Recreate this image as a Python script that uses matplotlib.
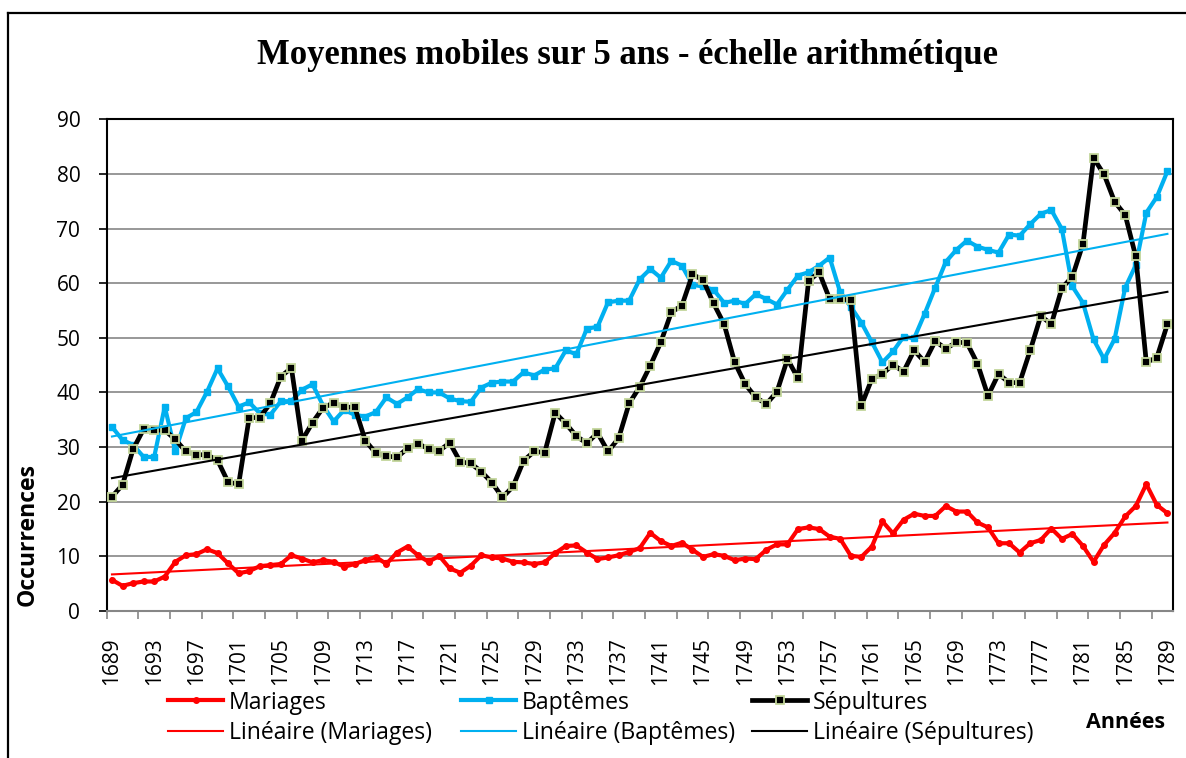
import numpy as np
import matplotlib
matplotlib.use("Agg")
import matplotlib.pyplot as plt
from matplotlib.lines import Line2D

years = list(range(1689, 1790))
tick_years = list(range(1689, 1790, 4))

mariages = [5.7, 4.6, 5.1, 5.4, 5.4, 6.3, 9.0, 10.2, 10.4, 11.3,
            10.6, 8.7, 6.9, 7.3, 8.2, 8.4, 8.6, 10.2, 9.6, 8.9,
            9.3, 9.0, 8.1, 8.6, 9.3, 9.9, 8.6, 10.7, 11.8, 10.2,
            9.0, 10.1, 7.8, 7.0, 8.3, 10.2, 9.8, 9.6, 9.0, 8.9,
            8.6, 8.9, 10.6, 11.9, 12.0, 10.7, 9.5, 9.8, 10.2, 10.8,
            11.5, 14.3, 12.8, 11.9, 12.5, 11.2, 9.9, 10.4, 10.1, 9.3,
            9.6, 9.5, 11.2, 12.2, 12.2, 15.0, 15.3, 15.0, 13.6, 13.2,
            10.1, 9.9, 11.8, 16.4, 14.2, 16.7, 17.8, 17.4, 17.4, 19.2,
            18.2, 18.2, 16.2, 15.3, 12.4, 12.4, 10.7, 12.4, 13.0, 15.1,
            13.2, 14.1, 11.9, 9.0, 12.1, 14.3, 17.3, 19.2, 23.2, 19.4,
            17.9]

baptemes = [33.7, 31.3, 30.4, 28.2, 28.2, 37.4, 29.2, 35.3, 36.4, 40.1,
            44.4, 41.1, 37.4, 38.2, 36.2, 35.9, 38.4, 38.4, 40.5, 41.5,
            37.6, 34.7, 36.8, 35.9, 35.6, 36.4, 39.1, 37.9, 39.1, 40.6,
            40.0, 40.0, 38.9, 38.4, 38.3, 40.9, 41.8, 42.0, 42.0, 43.7,
            43.1, 44.2, 44.4, 47.7, 47.0, 51.7, 52.0, 56.5, 56.8, 56.8,
            60.7, 62.6, 61.0, 64.1, 63.2, 59.7, 59.4, 58.8, 56.4, 56.8,
            56.2, 58.0, 57.1, 56.1, 58.8, 61.4, 62.0, 63.2, 64.7, 58.3,
            55.7, 52.8, 49.2, 45.5, 47.5, 50.2, 49.9, 54.4, 59.2, 63.9,
            66.1, 67.8, 66.7, 66.1, 65.6, 68.9, 68.7, 70.8, 72.7, 73.4,
            69.9, 59.4, 56.4, 49.7, 46.1, 49.8, 59.2, 63.3, 72.9, 75.8,
            80.5]

sepultures = [20.9, 23.1, 29.6, 33.3, 33.1, 33.1, 31.4, 29.2, 28.6, 28.6,
              27.6, 23.6, 23.2, 35.4, 35.4, 38.0, 42.9, 44.5, 31.2, 34.5,
              37.2, 38.1, 37.3, 37.3, 31.2, 28.9, 28.4, 28.1, 29.8, 30.6,
              29.7, 29.3, 30.8, 27.3, 27.0, 25.5, 23.5, 20.8, 22.8, 27.5,
              29.2, 29.0, 36.3, 34.3, 32.0, 30.7, 32.6, 29.2, 31.6, 38.0,
              41.0, 44.9, 49.2, 54.7, 55.9, 61.6, 60.6, 56.3, 52.5, 45.5,
              41.5, 39.1, 37.9, 40.1, 46.1, 42.6, 60.4, 62.0, 57.1, 57.1,
              56.9, 37.6, 42.5, 43.4, 45.1, 43.8, 47.7, 45.6, 49.4, 48.0,
              49.2, 49.1, 45.3, 39.4, 43.4, 41.8, 41.8, 47.7, 54.0, 52.5,
              59.1, 61.2, 67.2, 82.9, 79.9, 74.9, 72.5, 64.9, 45.5, 46.4,
              52.5]

y_ticks = [0, 10, 20, 30, 40, 50, 60, 70, 80, 90]

RED = "#FF0000"
BLUE = "#00B0F0"
BLACK = "#000000"
GRID = "#868686"
SANS = ["Open Sans", "DejaVu Sans"]

W, H = 1186, 758
fig = plt.figure(figsize=(W / 100, H / 100), dpi=100)
fig.patch.set_facecolor("white")

# outer chart border (cut off on right/bottom)
fig.add_artist(Line2D([8 / W, 8 / W], [0, 1 - 12.7 / H], transform=fig.transFigure,
                      color="black", lw=1.6))
fig.add_artist(Line2D([8 / W, 1], [1 - 12.7 / H, 1 - 12.7 / H], transform=fig.transFigure,
                      color="black", lw=1.6))

left, right, top, bottom = 106.7, 1172.7, 119.3, 611.0
ax = fig.add_axes([left / W, 1 - bottom / H, (right - left) / W, (bottom - top) / H])

x = np.arange(len(years))

ax.plot(x, mariages, color=RED, lw=3.0, marker="o", ms=4, mfc=RED, mec=RED,
        solid_joinstyle="round", zorder=4, label="Mariages")
ax.plot(x, baptemes, color=BLUE, lw=3.0, marker="s", ms=4, mfc=BLUE, mec=BLUE,
        solid_joinstyle="round", zorder=3, label="Baptêmes")
ax.plot(x, sepultures, color=BLACK, lw=3.4, marker="s", ms=5.5, mfc=BLACK,
        mec="#C3D69B", mew=1.3, solid_joinstyle="round", zorder=5, label="Sépultures")

trend_handles = []
for series, col, name in [(mariages, RED, "Mariages"), (baptemes, BLUE, "Baptêmes"),
                          (sepultures, BLACK, "Sépultures")]:
    a, b = np.polyfit(x, series, 1)
    h, = ax.plot([x[0], x[-1]], [b, a * x[-1] + b], color=col, lw=1.5, zorder=6,
                 label=f"Linéaire ({name})")
    trend_handles.append(h)

ax.set_xlim(-0.5, len(years) - 0.5)
ax.set_ylim(0, 90)
ax.set_yticks(y_ticks)
ax.set_yticklabels([str(v) for v in y_ticks], fontsize=15, family=SANS)
ax.yaxis.grid(True, color=GRID, lw=1.2)
ax.set_axisbelow(True)

ax.set_xticks(np.arange(-0.5, len(years), 3), minor=False)
ax.set_xticklabels([])
ax.set_xticks([years.index(yv) for yv in tick_years], minor=True)
ax.set_xticklabels([str(yv) for yv in tick_years], minor=True, rotation=90,
                   fontsize=15, family=SANS)
ax.tick_params(axis="x", which="major", length=6, width=1.2, color=GRID, direction="out")
ax.tick_params(axis="x", which="minor", length=0, pad=19)
ax.tick_params(axis="y", length=6, width=1.2, color="black", pad=13)

for s in ["left", "top", "right"]:
    ax.spines[s].set_color("black")
    ax.spines[s].set_linewidth(1.5)
ax.spines["bottom"].set_color(GRID)
ax.spines["bottom"].set_linewidth(1.5)

fig.text(627.5 / W, 1 - 55 / H, "Moyennes mobiles sur 5 ans - échelle arithmétique",
         ha="center", va="center", fontsize=24.9, fontweight="bold",
         family=["Liberation Serif", "DejaVu Serif"])
fig.text(28 / W, 1 - 535 / H, "Occurrences", rotation=90, ha="center", va="center",
         fontsize=16.6, fontweight="bold", family=SANS)
fig.text(1126 / W, 1 - 723 / H, "Années", ha="center", va="center",
         fontsize=15.5, fontweight="bold", family=SANS)

series_handles = ax.get_lines()[:3]
col_x = [168, 461, 752]
for i in range(3):
    leg = fig.legend(handles=[series_handles[i], trend_handles[i]],
                     loc="center left", bbox_to_anchor=(col_x[i] / W, 1 - 718 / H),
                     frameon=False, borderpad=0, borderaxespad=0,
                     handlelength=2.4, handletextpad=0.25, labelspacing=0.3,
                     prop={"family": SANS, "size": 16.6})

fig.savefig("out.png", dpi=100, facecolor="white")
